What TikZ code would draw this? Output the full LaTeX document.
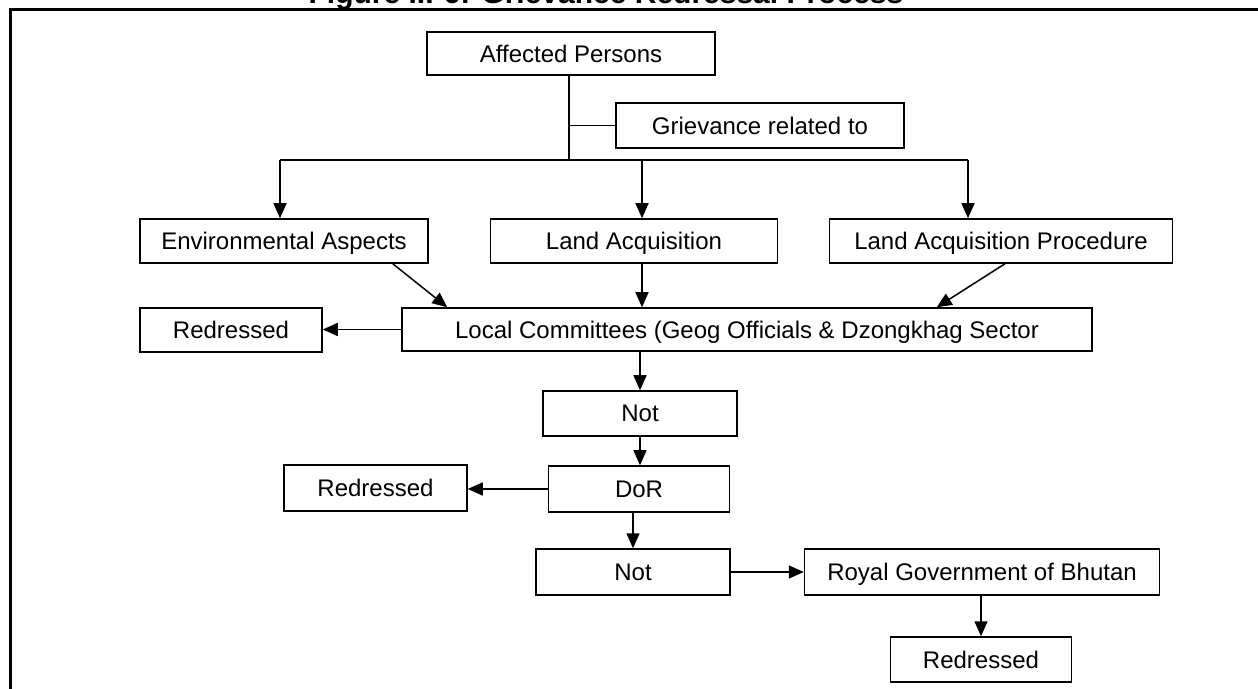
\documentclass[tikz,border=0pt]{standalone}
\usepackage{fontspec}
\setmainfont{Liberation Sans}
\usetikzlibrary{arrows.meta}

\begin{document}
\begin{tikzpicture}[x=0.5pt,y=-0.5pt,line width=0.75pt,
  box/.style={draw,inner sep=0pt,text depth=0pt,font=\fontsize{12}{14}\selectfont},
  arr/.style={-{Triangle[length=7.5pt,width=6.5pt]}}]
\useasboundingbox (0,0) rectangle (1258,689);
\node[font=\fontsize{15}{18}\selectfont\bfseries,anchor=base] (title) at (606,4) {Figure III-6: Grievance Redressal Process};
\draw[line width=1.5pt] (1258,10) -- (10,10) -- (10,689);

\node[box,minimum width=144pt,minimum height=21.5pt] (affected) at (571,53.5) {Affected Persons};
\node[box,minimum width=144pt,minimum height=22.5pt] (grievance) at (760,125.5) {Grievance related to};
\node[box,minimum width=144pt,minimum height=22pt] (env) at (284,241) {Environmental Aspects};
\node[box,minimum width=143.5pt,minimum height=22pt] (landacq) at (634,241) {Land Acquisition};
\node[box,minimum width=171.5pt,minimum height=22pt] (procedure) at (1001,241) {Land Acquisition Procedure};
\node[box,minimum width=345pt,minimum height=21.5pt] (local) at (747,329.5) {Local Committees (Geog Officials \& Dzongkhag Sector};
\node[box,minimum width=91pt,minimum height=22pt] (redA) at (231,330) {Redressed};
\node[box,minimum width=97pt,minimum height=22.5pt] (notA) at (640,413.5) {Not};
\node[box,minimum width=90.5pt,minimum height=23pt] (dor) at (639,489) {DoR};
\node[box,minimum width=91.5pt,minimum height=23pt] (redB) at (375.5,488) {Redressed};
\node[box,minimum width=97pt,minimum height=23pt] (notB) at (633,572) {Not};
\node[box,minimum width=177.5pt,minimum height=23pt] (royal) at (982,572) {Royal Government of Bhutan};
\node[box,minimum width=90.5pt,minimum height=22.5pt] (redC) at (981,659.5) {Redressed};

% branching lines
\coordinate (hub) at (569,160);
\coordinate (busL) at (280,160);
\coordinate (busM) at (642,160);
\coordinate (busR) at (968,160);
\draw (affected.south -| hub) -- (hub);
\draw (grievance.west) -- (grievance.west -| hub);
\draw (busL) -- (busR);
\draw[arr] (busL) -- (busL |- env.north);
\draw[arr] (busM) -- (busM |- landacq.north);
\draw[arr] (busR) -- (busR |- procedure.north);

% into the committees
\draw[arr] ([xshift=-18pt]env.south east) -- ([xshift=23pt]local.north west);
\draw[arr] (landacq.south -| busM) -- (local.north -| busM);
\draw[arr] ([xshift=2pt]procedure.south) -- ([xshift=-78pt]local.north east);

% redressal chain
\draw[arr] (local.west) -- (local.west -| redA.east);
\draw[arr] (notA.north |- local.south) -- (notA.north);
\draw[arr] (notA.south) -- (notA.south |- dor.north);
\draw[arr] (dor.west) -- (dor.west -| redB.east);
\draw[arr] (dor.south -| notB.north) -- (notB.north);
\draw[arr] (notB.east) -- (notB.east -| royal.west);
\draw[arr] (redC.north |- royal.south) -- (redC.north);
\end{tikzpicture}
\end{document}
